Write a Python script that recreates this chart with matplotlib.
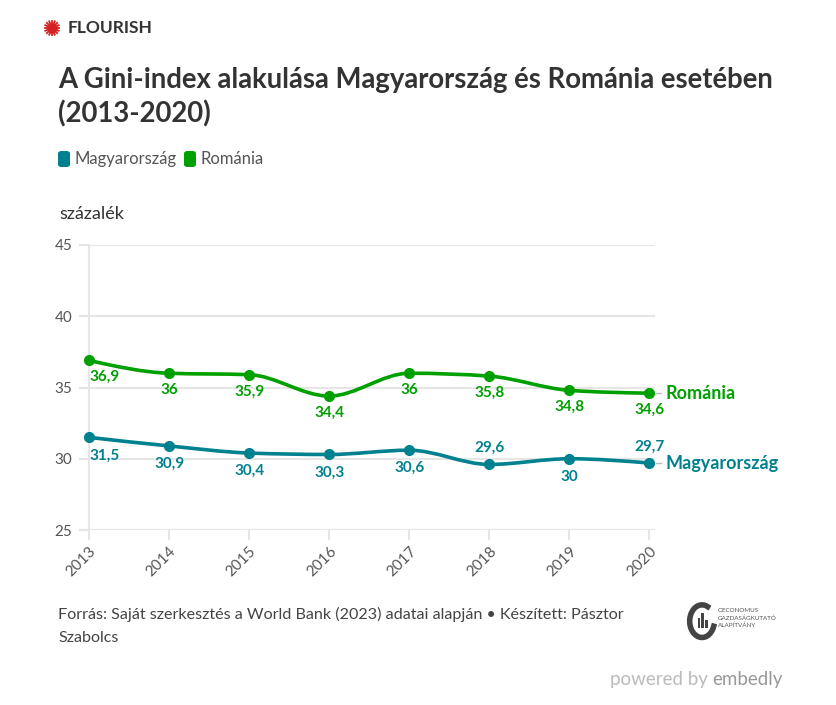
import matplotlib.pyplot as plt
import numpy as np
from matplotlib.path import Path
from matplotlib.patches import PathPatch, FancyBboxPatch

years = [2013, 2014, 2015, 2016, 2017, 2018, 2019, 2020]
hu = [31.5, 30.9, 30.4, 30.3, 30.6, 29.6, 30.0, 29.7]
ro = [36.9, 36.0, 35.9, 34.4, 36.0, 35.8, 34.8, 34.6]
hu_labels = ['31,5', '30,9', '30,4', '30,3', '30,6', '29,6', '30', '29,7']
ro_labels = ['36,9', '36', '35,9', '34,4', '36', '35,8', '34,8', '34,6']
hu_above = [False, False, False, False, False, True, False, True]

HU_COL = '#00818f'
RO_COL = '#00a000'
W, H = 837, 705
FONT = 'Lato'

plt.rcParams['font.family'] = [FONT, 'DejaVu Sans']


def fx(px):
    return px / W


def fy(py):
    return 1 - py / H


def monotone_path(x, y):
    # d3 curveMonotoneX as cubic bezier path
    x = np.asarray(x, float)
    y = np.asarray(y, float)
    n = len(x)
    h = np.diff(x)
    s = np.diff(y) / h
    t = np.zeros(n)
    for i in range(1, n - 1):
        s0, s1 = s[i - 1], s[i]
        p = (s0 * h[i] + s1 * h[i - 1]) / (h[i - 1] + h[i])
        t[i] = (np.sign(s0) + np.sign(s1)) * min(abs(s0), abs(s1), 0.5 * abs(p))
    t[0] = (3 * s[0] - t[1]) / 2
    t[-1] = (3 * s[-1] - t[-2]) / 2
    verts = [(x[0], y[0])]
    codes = [Path.MOVETO]
    for i in range(n - 1):
        d = h[i] / 3
        verts += [(x[i] + d, y[i] + d * t[i]), (x[i + 1] - d, y[i + 1] - d * t[i + 1]), (x[i + 1], y[i + 1])]
        codes += [Path.CURVE4] * 3
    return Path(verts, codes)


fig = plt.figure(figsize=(W / 100, H / 100), dpi=100)
ax = fig.add_axes([fx(89), fy(530), fx(655) - fx(89), fy(245) - fy(530)])
ax.set_xlim(2013, 2020.07)
ax.set_ylim(25, 45)

grid_col = '#e6e6e6'
ax.set_yticks([25, 30, 35, 40, 45])
ax.set_xticks(years)
ax.grid(axis='y', color=grid_col, lw=1.5)
ax.set_axisbelow(True)
for sp in ['top', 'right', 'bottom']:
    ax.spines[sp].set_visible(False)
ax.spines['left'].set_color(grid_col)
ax.spines['left'].set_linewidth(1.5)
ax.axhline(25, color=grid_col, lw=1.5, zorder=0)
ax.tick_params(axis='both', colors=grid_col, width=1.5, length=7, labelcolor='#555555', labelsize=11)
ax.set_yticklabels([str(v) for v in [25, 30, 35, 40, 45]])
ax.set_xticklabels([str(y) for y in years], rotation=45, ha='right', rotation_mode='anchor')
ax.tick_params(axis='x', pad=3)
ax.tick_params(axis='y', pad=5)

for vals, col in [(hu, HU_COL), (ro, RO_COL)]:
    ax.add_patch(PathPatch(monotone_path(years, vals), fill=False, ec=col, lw=2.6, zorder=3, capstyle='round'))
    ax.plot(years, vals, 'o', color=col, ms=7, zorder=4, clip_on=False)

for i, (x, v, lab) in enumerate(zip(years, ro, ro_labels)):
    ha = 'left' if i == 0 else 'center'
    ax.annotate(lab, (x, v), xytext=(0, -12), textcoords='offset points', ha=ha, va='center',
                color=RO_COL, fontsize=11, fontweight='bold')
for i, (x, v, lab) in enumerate(zip(years, hu, hu_labels)):
    ha = 'left' if i == 0 else 'center'
    dy = 12 if hu_above[i] else -13
    ax.annotate(lab, (x, v), xytext=(0, dy), textcoords='offset points', ha=ha, va='center',
                color=HU_COL, fontsize=11, fontweight='bold')

# end labels
for v, name, col in [(ro[-1], 'Románia', RO_COL), (hu[-1], 'Magyarország', HU_COL)]:
    ax.plot([2020.08, 2020.15], [v, v], color='#bbbbbb', lw=1, clip_on=False)
    ax.text(2020.2, v, name, color=col, fontsize=13, fontweight='bold', va='center', ha='left', clip_on=False)

# header
fig.text(fx(68), fy(28), 'FLOURISH', fontsize=12.5, fontweight='bold', color='#333333', va='center')
star = fig.add_axes([fx(44), fy(36), 16 / W, 16 / H])
star.axis('off')
ang = np.linspace(0, np.pi, 8, endpoint=False)
for a in ang:
    star.plot([-np.cos(a), np.cos(a)], [-np.sin(a), np.sin(a)], color='#d42020', lw=1.3)
star.plot(0, 0, 'o', color='#d42020', ms=6)
star.set_xlim(-1.1, 1.1)
star.set_ylim(-1.1, 1.1)

fig.text(fx(58), fy(80), 'A Gini-index alakulása Magyarország és Románia esetében',
         fontsize=19.8, fontweight='bold', color='#333333', va='center')
fig.text(fx(58), fy(114), '(2013-2020)',
         fontsize=19.8, fontweight='bold', color='#333333', va='center')

# legend
for x0, tx, name, col in [(58, 75, 'Magyarország', HU_COL), (184, 201, 'Románia', RO_COL)]:
    fig.patches.append(FancyBboxPatch((fx(x0), fy(167)), 12 / W, 16 / H, boxstyle='round,pad=0,rounding_size=0.004',
                                      transform=fig.transFigure, fc=col, ec='none'))
    fig.text(fx(tx), fy(159), name, fontsize=12, color='#555555', va='center')

fig.text(fx(59), fy(214), 'százalék', fontsize=13, color='#333333', va='center')

fig.text(fx(58), fy(614), 'Forrás: Saját szerkesztés a World Bank (2023) adatai alapján • Készített: Pásztor',
         fontsize=11.6, color='#444444', va='center')
fig.text(fx(58), fy(638), 'Szabolcs', fontsize=11.6, color='#444444', va='center')

# logo
lg = fig.add_axes([fx(686), fy(644), 32 / W, 44 / H])
lg.axis('off')
th = np.linspace(0.35 * np.pi, 1.9 * np.pi, 60)
lg.plot(np.cos(th), np.sin(th), color='#444444', lw=4)
for bx, bh in [(-0.25, 0.6), (0.05, 0.9), (0.35, 0.5)]:
    lg.bar(bx, bh, width=0.2, bottom=-0.4, color='#444444')
lg.set_xlim(-1.3, 1.3)
lg.set_ylim(-1.4, 1.3)
fig.text(fx(718), fy(618), 'OECONOMUS\nGAZDASÁGKUTATÓ\nALAPÍTVÁNY', fontsize=4.5, color='#555555', va='center', linespacing=1.4)

fig.text(fx(708), fy(680), 'powered by', fontsize=13.5, color='#bbbbbb', va='center', ha='right')
fig.text(fx(712), fy(680), 'embedly', fontsize=13.5, color='#999999', va='center', ha='left')

fig.savefig('out.png', dpi=100, facecolor='white')
